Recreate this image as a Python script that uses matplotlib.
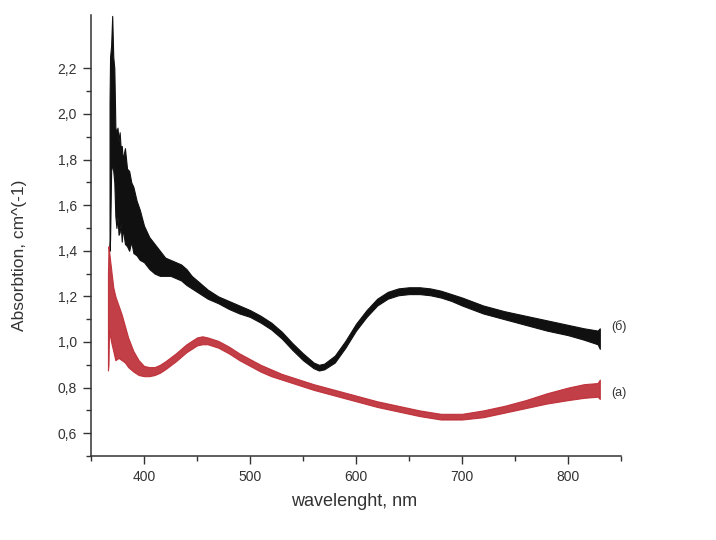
import matplotlib
matplotlib.use("Agg")
import matplotlib.pyplot as plt
from matplotlib.ticker import FixedLocator, FuncFormatter

plt.rcParams['font.family'] = ['Liberation Sans', 'DejaVu Sans']

# Sample (б): noisy absorption band, lower / upper envelope of the trace
black_nm = [367.5, 368, 369, 370, 371, 372, 373, 374, 375, 376, 377, 378, 379, 380,
            382, 384, 386, 388, 390, 393, 396, 400, 405, 410, 415, 420, 425, 430,
            435, 440, 445, 450, 460, 470, 480, 490, 500, 510, 520, 530, 540, 550,
            560, 565, 570, 580, 590, 600, 610, 620, 630, 640, 650, 660, 670, 680,
            690, 700, 720, 740, 760, 780, 800, 815, 828, 830]
black_lo = [1.40, 1.45, 1.75, 1.78, 1.75, 1.70, 1.55, 1.50, 1.55, 1.47, 1.48, 1.52, 1.44, 1.50,
            1.43, 1.42, 1.40, 1.44, 1.39, 1.38, 1.36, 1.35, 1.32, 1.30, 1.29, 1.29, 1.29, 1.28,
            1.27, 1.25, 1.235, 1.22, 1.19, 1.17, 1.145, 1.125, 1.11, 1.085, 1.055, 1.015, 0.965, 0.92,
            0.885, 0.875, 0.88, 0.91, 0.975, 1.05, 1.11, 1.16, 1.19, 1.205, 1.21, 1.21, 1.205, 1.195,
            1.18, 1.16, 1.125, 1.10, 1.075, 1.05, 1.03, 1.01, 0.99, 0.97]
black_hi = [2.05, 2.25, 2.30, 2.43, 2.25, 2.20, 1.94, 1.92, 1.94, 1.88, 1.92, 1.85, 1.86, 1.80,
            1.85, 1.76, 1.75, 1.70, 1.68, 1.62, 1.58, 1.51, 1.46, 1.43, 1.40, 1.37, 1.36, 1.35,
            1.34, 1.32, 1.29, 1.27, 1.23, 1.20, 1.18, 1.16, 1.14, 1.115, 1.085, 1.045, 0.995, 0.95,
            0.91, 0.90, 0.905, 0.94, 1.005, 1.08, 1.14, 1.19, 1.22, 1.235, 1.24, 1.24, 1.235, 1.225,
            1.21, 1.195, 1.16, 1.135, 1.115, 1.095, 1.075, 1.06, 1.05, 1.06]

# Sample (a)
red_nm = [366, 366.5, 367, 369, 371, 373, 376, 379, 382, 385, 390, 395, 400, 405,
          410, 415, 420, 430, 440, 450, 455, 460, 470, 480, 490, 500, 510, 520,
          530, 540, 560, 580, 600, 620, 640, 660, 680, 700, 720, 740, 760, 780,
          800, 815, 828, 830]
red_lo = [0.875, 0.90, 1.05, 1.00, 0.96, 0.92, 0.93, 0.92, 0.91, 0.89, 0.87, 0.855, 0.85, 0.85,
          0.855, 0.865, 0.88, 0.915, 0.955, 0.985, 0.99, 0.99, 0.975, 0.95, 0.92, 0.895, 0.87, 0.85,
          0.835, 0.82, 0.79, 0.765, 0.74, 0.715, 0.695, 0.675, 0.66, 0.66, 0.67, 0.69, 0.71, 0.73,
          0.745, 0.755, 0.76, 0.75]
red_hi = [1.30, 1.42, 1.40, 1.32, 1.24, 1.20, 1.16, 1.12, 1.07, 1.02, 0.96, 0.92, 0.895, 0.89,
          0.89, 0.90, 0.915, 0.95, 0.99, 1.02, 1.025, 1.02, 1.005, 0.98, 0.95, 0.925, 0.90, 0.88,
          0.86, 0.845, 0.815, 0.79, 0.765, 0.74, 0.72, 0.70, 0.685, 0.685, 0.70, 0.72, 0.745, 0.775,
          0.80, 0.815, 0.82, 0.835]

x_major = [400, 500, 600, 700, 800]
x_minor = [350, 450, 550, 650, 750, 850]
y_major = [0.6, 0.8, 1.0, 1.2, 1.4, 1.6, 1.8, 2.0, 2.2]
y_minor = [0.5, 0.7, 0.9, 1.1, 1.3, 1.5, 1.7, 1.9, 2.1]

fig = plt.figure(figsize=(7.16, 5.4), dpi=100)
ax = fig.add_axes([91 / 716, 1 - 456 / 540, 530 / 716, 441 / 540])

black = '#101010'
red = '#bd2a33'
ax.fill_between(black_nm, black_lo, black_hi, color=black, lw=0.8, edgecolor=black)
ax.fill_between(red_nm, red_lo, red_hi, color=red, lw=0.8, edgecolor=red, alpha=0.9)

ax.set_xlim(350, 850)
ax.set_ylim(0.5, 2.434)

for s in ('top', 'right'):
    ax.spines[s].set_visible(False)
for s in ('left', 'bottom'):
    ax.spines[s].set_color('#333333')
    ax.spines[s].set_linewidth(1.1)

ax.xaxis.set_major_locator(FixedLocator(x_major))
ax.xaxis.set_minor_locator(FixedLocator(x_minor))
ax.yaxis.set_major_locator(FixedLocator(y_major))
ax.yaxis.set_minor_locator(FixedLocator(y_minor))
ax.yaxis.set_major_formatter(FuncFormatter(lambda v, p: f"{v:.1f}".replace('.', ',')))
ax.tick_params(which='major', direction='out', length=6, width=1.0, color='#333333',
               labelsize=10, labelcolor='#333333', pad=4)
ax.tick_params(which='minor', direction='out', length=3.5, width=1.0, color='#333333')

ax.set_xlabel('wavelenght, nm', fontsize=13, color='#333333')
ax.xaxis.set_label_coords(0.497, -0.085)
ax.set_ylabel('Absorbtion, cm^(-1)', fontsize=12.5, color='#333333', va='center')
ax.yaxis.set_label_coords(-0.134, 0.456)

ax.text(841, 1.066, '(б)', fontsize=9, color='#333333', va='center', ha='left')
ax.text(841, 0.776, '(a)', fontsize=9, color='#333333', va='center', ha='left')

fig.savefig('out.png', dpi=100, facecolor='white')
